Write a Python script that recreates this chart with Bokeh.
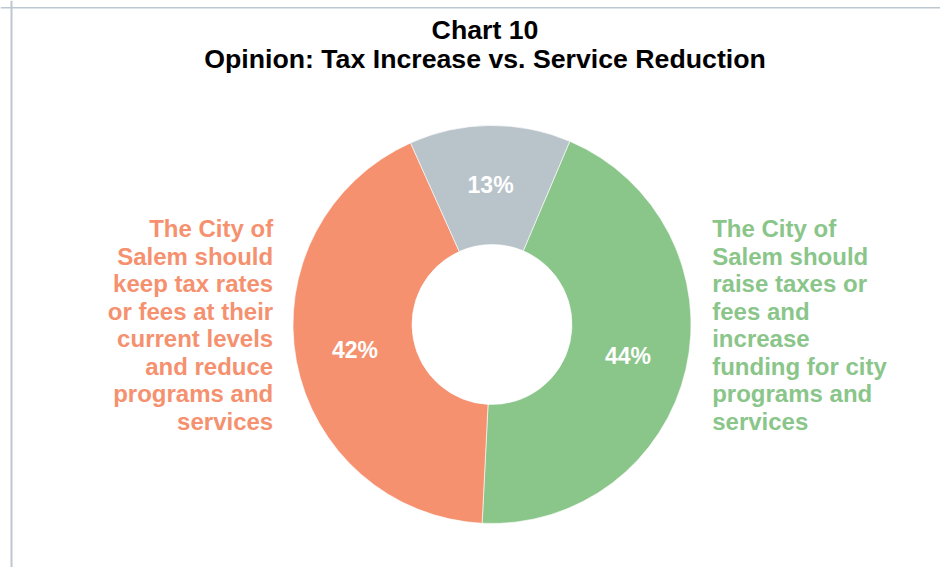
import math
from bokeh.plotting import figure
from bokeh.models import ColumnDataSource, Range1d, Span
from bokeh.core.properties import value
from bokeh.embed import file_html
from bokeh.resources import INLINE

# ---- data ----
CATEGORIES = [
    "The City of Salem should raise taxes or fees and increase funding for city programs and services",
    "The City of Salem should keep tax rates or fees at their current levels and reduce programs and services",
    "Don't know",
]
VALUES = [44.4, 42.5, 13.1]
PCT_LABELS = ["44%", "42%", "13%"]
COLORS = ["#8AC58A", "#F5916F", "#B9C3CA"]
GREEN_LINES = ["The City of", "Salem should", "raise taxes or", "fees and",
               "increase", "funding for city", "programs and", "services"]
ORANGE_LINES = ["The City of", "Salem should", "keep tax rates", "or fees at their",
                "current levels", "and reduce", "programs and", "services"]
TITLE_LINES = ["Chart 10", "Opinion: Tax Increase vs. Service Reduction"]

FONT = value("Liberation Sans")

# ---- geometry (1 data unit == 1 screen pixel, donut centre at 0,0) ----
W, H = 940, 567
CX, CY = 491.5, 324.0                # donut centre on the canvas
R_OUT, R_IN = 199, 80
START_DEG = 23.0                     # first slice starts 23 deg clockwise from 12 o'clock

p = figure(width=W, height=H, output_backend="svg", toolbar_location=None,
           x_range=Range1d(-CX, W - CX), y_range=Range1d(-(H - CY), CY),
           min_border=0, tools="")
p.axis.visible = False
p.grid.visible = False
p.outline_line_color = None
p.background_fill_color = "white"
p.border_fill_color = "white"

total = sum(VALUES)
starts, ends, lx, ly = [], [], [], []
cum = 0.0
r_mid = (R_OUT + R_IN) / 2
for v in VALUES:
    s = math.pi / 2 - math.radians(START_DEG) - 2 * math.pi * cum / total
    e = s - 2 * math.pi * v / total
    starts.append(s)
    ends.append(e)
    m = (s + e) / 2
    lx.append(r_mid * math.cos(m))
    ly.append(r_mid * math.sin(m))
    cum += v

src = ColumnDataSource(dict(x=[0] * len(VALUES), y=[0] * len(VALUES), start=starts, end=ends,
                            color=COLORS, lx=lx, ly=ly, label=PCT_LABELS))
p.annular_wedge(x="x", y="y", inner_radius=R_IN, outer_radius=R_OUT,
                inner_radius_units="screen", outer_radius_units="screen",
                start_angle="start", end_angle="end", direction="clock",
                fill_color="color", line_color="white", line_width=0.6, source=src)
p.text(x="lx", y="ly", text="label", source=src, text_color="white",
       text_font=FONT, text_font_style="bold", text_font_size="23px",
       text_align="center", text_baseline="middle")

# side category labels (vertical centres of each line)
LINE_STEP = 27.5
first_mid = CY - 228.2
oy = [first_mid - i * LINE_STEP for i in range(len(ORANGE_LINES))]
gy = [first_mid - i * LINE_STEP for i in range(len(GREEN_LINES))]
p.text(x=[272.7 - CX] * len(ORANGE_LINES), y=oy, text=ORANGE_LINES, text_color=COLORS[1],
       text_font=FONT, text_font_style="bold", text_font_size="24px",
       text_align="right", text_baseline="middle")
p.text(x=[711.7 - CX] * len(GREEN_LINES), y=gy, text=GREEN_LINES, text_color=COLORS[0],
       text_font=FONT, text_font_style="bold", text_font_size="24px",
       text_align="left", text_baseline="middle")

# title
ty = [CY - 29.6, CY - 58.4]
p.text(x=[484.5 - CX] * 2, y=ty, text=TITLE_LINES, text_color="black",
       text_font=FONT, text_font_style="bold", text_font_size="26.7px",
       text_align="center", text_baseline="middle")

# chart-area frame (left and top edges visible)
p.add_layout(Span(location=CY - 7.3, dimension="width", line_color="#BDC7D2", line_width=1.5))
p.add_layout(Span(location=11 - CX, dimension="height", line_color="#BDC7D2", line_width=2))

open("out.html", "w").write(file_html(p, INLINE))
